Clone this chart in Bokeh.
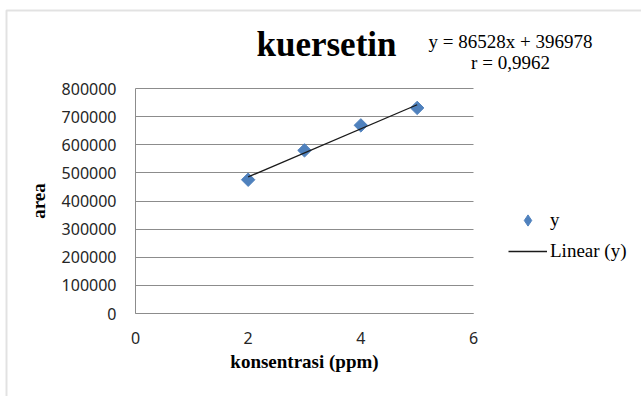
import numpy as np
from bokeh.plotting import figure
from bokeh.models import (Range1d, Label, Legend, LegendItem, FixedTicker,
                          BoxAnnotation, NumeralTickFormatter)
from bokeh.embed import file_html
from bokeh.resources import INLINE

# ---- data ----
konsentrasi = [2, 3, 4, 5]
area = [475600, 580000, 669000, 731000]
x_ticks = [0, 2, 4, 6]
y_ticks = [0, 100000, 200000, 300000, 400000, 500000, 600000, 700000, 800000]
title_text = "kuersetin"
equation_text = "y = 86528x + 396978"
r_text = "r = 0,9962"
x_label = "konsentrasi (ppm)"
y_label = "area"
series_label = "y"
trend_label = "Linear (y)"

# linear trendline fitted to the series
slope, intercept = np.polyfit(konsentrasi, area, 1)
fit_x = [min(konsentrasi), max(konsentrasi)]
fit_y = [slope * v + intercept for v in fit_x]

W, H = 641, 396
# plot area in canvas pixels
FL, FR, FT, FB = 135, 473, 88, 313
XMIN, XMAX, YMIN, YMAX = 0, 6, 0, 800000


def px_x(px):
    return XMIN + (px - FL) / (FR - FL) * (XMAX - XMIN)


def px_y(py):
    return YMIN + (FB - py) / (FB - FT) * (YMAX - YMIN)


# the frame covers the whole canvas; axes sit at fixed locations
p = figure(width=W, height=H, output_backend="svg", toolbar_location=None,
           x_range=Range1d(px_x(0), px_x(W)), y_range=Range1d(px_y(H), px_y(0)),
           min_border_left=0, min_border_right=0,
           min_border_top=0, min_border_bottom=0)
p.outline_line_color = None
p.background_fill_color = "white"
p.border_fill_color = "white"

GRID = "#8c8c8c"
BLUE = "#4F81BD"
p.xgrid.visible = False
grid = p.ygrid[0]
grid.ticker = FixedTicker(ticks=y_ticks)
grid.grid_line_color = GRID
grid.grid_line_width = 1
grid.bounds = (YMIN, YMAX)
if "cross_bounds" in grid.properties():
    grid.cross_bounds = (XMIN, XMAX)
else:
    grid.visible = False
    p.segment(x0=[XMIN] * len(y_ticks), y0=y_ticks, x1=[XMAX] * len(y_ticks),
              y1=y_ticks, line_color=GRID, line_width=1)

for ax in (p.xaxis[0], p.yaxis[0]):
    ax.fixed_location = 0
    ax.axis_line_color = GRID
    ax.axis_line_width = 1
    ax.major_tick_line_color = None
    ax.minor_tick_line_color = None
    ax.major_tick_out = 0
    ax.major_tick_in = 0
    ax.major_label_text_font = "Noto Sans"
    ax.major_label_text_font_size = "16px"
    ax.major_label_text_color = "#262626"
    ax.axis_label_text_font = "Liberation Serif"
    ax.axis_label_text_font_style = "bold"
    ax.axis_label_text_font_size = "19px"
    ax.axis_label_text_color = "black"

p.xaxis.bounds = (XMIN, XMAX)
p.yaxis.bounds = (YMIN, YMAX)
p.xaxis.ticker = FixedTicker(ticks=x_ticks)
p.yaxis.ticker = FixedTicker(ticks=y_ticks)
p.yaxis.formatter = NumeralTickFormatter(format="0")
p.xaxis.formatter = NumeralTickFormatter(format="0")
p.xaxis.major_label_standoff = 18
p.yaxis.major_label_standoff = 19
p.xaxis.axis_label = x_label
p.yaxis.axis_label = y_label
p.xaxis.axis_label_standoff = 4
p.yaxis.axis_label_standoff = 10

pts = p.scatter(konsentrasi, area, marker="square", angle=np.pi / 4, size=9.5,
                fill_color=BLUE, line_color=BLUE)
trend = p.line(fit_x, fit_y, line_color="#1a1a1a", line_width=1.3)
# legend swatch for the series (the legend does not rotate markers);
# a NaN point draws nothing in the plot
swatch = p.scatter(x=[float("nan")], y=[float("nan")], marker="diamond", size=13,
                   fill_color=BLUE, line_color=BLUE)

# outer chart border (left and top edges visible)
p.add_layout(BoxAnnotation(left=px_x(6), right=px_x(W + 60), top=px_y(10),
                           bottom=px_y(H + 60), fill_alpha=0,
                           line_color="#a0a0a0", line_width=2))

p.add_layout(Label(x=px_x(326), y=px_y(44), text=title_text,
                   text_font="Liberation Serif", text_font_style="bold",
                   text_font_size="35px", text_align="center",
                   text_baseline="alphabetic", text_color="black"))
p.add_layout(Label(x=px_x(510), y=px_y(41), text=equation_text,
                   text_font="Liberation Serif", text_font_size="19px",
                   text_align="center", text_baseline="alphabetic",
                   text_color="black"))
p.add_layout(Label(x=px_x(510), y=px_y(62), text=r_text,
                   text_font="Liberation Serif", text_font_size="19px",
                   text_align="center", text_baseline="alphabetic",
                   text_color="black"))

legend = Legend(items=[LegendItem(label=series_label, renderers=[swatch], index=0),
                       LegendItem(label=trend_label, renderers=[trend])],
                location=(508, H - 265),
                glyph_width=39, glyph_height=28, label_height=20,
                label_standoff=3, spacing=3, padding=0, margin=0,
                border_line_alpha=0, background_fill_alpha=0,
                label_text_font="Liberation Serif", label_text_font_size="19px",
                label_text_color="black")
p.add_layout(legend)

open("out.html", "w").write(file_html(p, INLINE))
